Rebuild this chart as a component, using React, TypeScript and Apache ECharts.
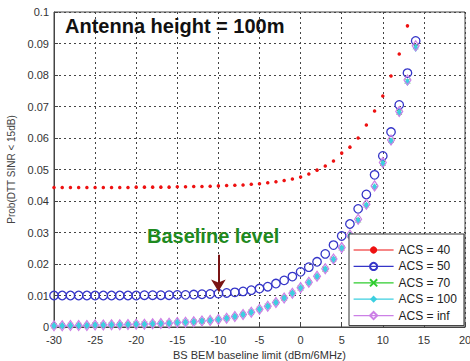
import React, { useEffect, useRef } from "react";
import * as echarts from "echarts";

const xValues: number[] = [
  -30, -29, -28, -27, -26, -25, -24, -23, -22, -21, -20, -19, -18, -17, -16,
  -15, -14, -13, -12, -11, -10, -9, -8, -7, -6, -5, -4, -3, -2, -1, 0, 1, 2,
  3, 4, 5, 6, 7, 8, 9, 10, 11, 12, 13, 14,
];

const acs40: number[] = [
  0.0443, 0.0443, 0.0443, 0.0443, 0.0443, 0.0443, 0.0443, 0.0443, 0.0443, 0.0443,
  0.0444, 0.0444, 0.0444, 0.0444, 0.0444, 0.0445, 0.0445, 0.0446, 0.0446, 0.0447,
  0.0448, 0.0449, 0.045, 0.0451, 0.0453, 0.0455, 0.0458, 0.0461, 0.0465, 0.047,
  0.0476, 0.0486, 0.0498, 0.0511, 0.0527, 0.0552, 0.0571, 0.06, 0.0641, 0.0686,
  0.0733, 0.0797, 0.0867, 0.0956,
];

const acs50: number[] = [
  0.01, 0.01, 0.01, 0.01, 0.01, 0.01, 0.01, 0.01, 0.01, 0.01,
  0.01, 0.0101, 0.0101, 0.0101, 0.0101, 0.0102, 0.0102, 0.0103, 0.0104, 0.0105,
  0.0106, 0.0108, 0.011, 0.0113, 0.0117, 0.0122, 0.0128, 0.0138, 0.0148, 0.016,
  0.0175, 0.019, 0.0207, 0.0232, 0.026, 0.0289, 0.0327, 0.0375, 0.0421, 0.0483,
  0.0543, 0.0619, 0.0705, 0.0806, 0.0908,
];

const acs70: number[] = [
  0.0004, 0.0004, 0.0005, 0.0005, 0.0005, 0.0006, 0.0006, 0.0007, 0.0007, 0.0008,
  0.0009, 0.0009, 0.001, 0.0011, 0.0012, 0.0014, 0.0015, 0.0017, 0.0019, 0.0021,
  0.0024, 0.0028, 0.0033, 0.004, 0.0047, 0.0056, 0.0066, 0.0078, 0.0092, 0.0107,
  0.0124, 0.0141, 0.016, 0.0184, 0.0215, 0.0251, 0.029, 0.034, 0.0388, 0.0446,
  0.052, 0.0592, 0.0682, 0.0781, 0.089,
];

const acs100: number[] = [
  0.0004, 0.0004, 0.0005, 0.0005, 0.0005, 0.0006, 0.0006, 0.0007, 0.0007, 0.0008,
  0.0009, 0.0009, 0.001, 0.0011, 0.0012, 0.0014, 0.0015, 0.0017, 0.0019, 0.0021,
  0.0024, 0.0028, 0.0033, 0.004, 0.0047, 0.0056, 0.0066, 0.0078, 0.0092, 0.0107,
  0.0124, 0.0141, 0.016, 0.0183, 0.0214, 0.025, 0.0289, 0.0338, 0.0386, 0.0444,
  0.0518, 0.059, 0.068, 0.0778, 0.0886,
];

const acsInf: number[] = [
  0.0004, 0.0004, 0.0005, 0.0005, 0.0005, 0.0006, 0.0006, 0.0007, 0.0007, 0.0008,
  0.0009, 0.0009, 0.001, 0.0011, 0.0012, 0.0014, 0.0015, 0.0017, 0.0019, 0.0021,
  0.0024, 0.0028, 0.0033, 0.004, 0.0047, 0.0056, 0.0066, 0.0078, 0.0092, 0.0107,
  0.0125, 0.0142, 0.0161, 0.0185, 0.0216, 0.0252, 0.0292, 0.0342, 0.039, 0.0448,
  0.0522, 0.0594, 0.0684, 0.0784, 0.0893,
];

const seriesNames: string[] = ["ACS = 40", "ACS = 50", "ACS = 70", "ACS = 100", "ACS = inf"];

const arrowX = -10;
const arrowTop = 0.0229;
const arrowTip = 0.0113;

const titleText = "Antenna height = 100m";
const baselineText = "Baseline level";
const xAxisName = "BS BEM baseline limit (dBm/6MHz)";
const yAxisName = "Prob(DTT SINR < 15dB)";

const FONT = "Arial, 'Liberation Sans', sans-serif";

function pairs(ys: number[]): [number, number][] {
  return ys.map((y, i) => [xValues[i], y]);
}

export default function App() {
  const ref = useRef<HTMLDivElement>(null);

  useEffect(() => {
    if (!ref.current) return;
    const chart = echarts.init(ref.current, undefined, { renderer: "svg" });

    const base = {
      type: "line" as const,
      showSymbol: true,
      z: 3,
    };

    chart.setOption({
      animation: false,
      backgroundColor: "#ffffff",
      grid: {
        left: 54,
        right: 5,
        top: 12,
        bottom: 34,
        containLabel: false,
        outerBoundsMode: "none",
        show: true,
        borderColor: "#444",
        borderWidth: 1,
        backgroundColor: "#fff",
      },
      xAxis: {
        type: "value",
        min: -30,
        max: 20,
        interval: 5,
        name: xAxisName,
        nameLocation: "middle",
        nameGap: 21,
        nameTextStyle: { fontFamily: FONT, fontSize: 11, color: "#333" },
        axisLine: { show: true, onZero: false, lineStyle: { color: "#444" } },
        axisTick: { show: true, inside: true, length: 4, lineStyle: { color: "#444" } },
        axisLabel: { fontFamily: FONT, fontSize: 11, color: "#333", margin: 7 },
        splitLine: { show: true, lineStyle: { color: "#444", type: [2, 3], width: 1 } },
      },
      yAxis: {
        type: "value",
        min: 0,
        max: 0.1,
        interval: 0.01,
        name: yAxisName,
        nameLocation: "middle",
        nameGap: 35,
        nameTextStyle: { fontFamily: FONT, fontSize: 10, color: "#444" },
        axisLine: { show: true, onZero: false, lineStyle: { color: "#444" } },
        axisTick: { show: true, inside: true, length: 4, lineStyle: { color: "#444" } },
        axisLabel: {
          fontFamily: FONT,
          fontSize: 11,
          color: "#333",
          margin: 5,
          formatter: (v: number) => String(parseFloat(v.toFixed(3))),
        },
        splitLine: { show: true, lineStyle: { color: "#444", type: [2, 3], width: 1 } },
      },
      legend: {
        orient: "vertical",
        left: 349,
        top: 234,
        backgroundColor: "#fff",
        borderColor: "#333",
        borderWidth: 1,
        borderRadius: 0,
        padding: [10, 7, 4, 4],
        itemWidth: 40,
        itemHeight: 9,
        itemGap: 4.4,
        textStyle: { fontFamily: FONT, fontSize: 12, color: "#222" },
        lineStyle: { width: 1.2 },
        data: seriesNames,
      },
      graphic: [
        {
          type: "text",
          left: 65,
          top: 16,
          style: {
            text: titleText,
            fontFamily: FONT,
            fontSize: 20,
            fontWeight: "bold",
            fill: "#111",
          },
          z: 10,
        },
        {
          type: "text",
          left: 147,
          top: 226,
          style: {
            text: baselineText,
            fontFamily: FONT,
            fontSize: 20,
            fontWeight: "bold",
            fill: "#1f8a1f",
          },
          z: 10,
        },
      ],
      series: [
        {
          ...base,
          name: seriesNames[0],
          data: pairs(acs40),
          symbol: "circle",
          symbolSize: 3.5,
          itemStyle: { color: "#ee1111" },
          lineStyle: { width: 0, color: "#ee1111" },
        },
        {
          ...base,
          name: seriesNames[1],
          data: pairs(acs50),
          symbol: "circle",
          symbolSize: 8.5,
          itemStyle: { color: "transparent", borderColor: "#3535c8", borderWidth: 1.3 },
          lineStyle: { width: 0, color: "#3535c8" },
          markLine: {
            silent: true,
            symbol: ["none", "arrow"],
            symbolSize: [11, 12],
            label: { show: false },
            lineStyle: { color: "#7a1414", width: 2, type: "solid" },
            data: [[{ coord: [arrowX, arrowTop] }, { coord: [arrowX, arrowTip] }]],
          },
        },
        {
          ...base,
          name: seriesNames[2],
          data: pairs(acs70),
          symbol: "path://M0,0L10,10M10,0L0,10",
          symbolSize: 5,
          itemStyle: { color: "transparent", borderColor: "#2ecc2e", borderWidth: 1 },
          lineStyle: { width: 0, color: "#2ecc2e" },
        },
        {
          ...base,
          name: seriesNames[3],
          data: pairs(acs100),
          symbol: "diamond",
          symbolSize: [6, 8],
          itemStyle: { color: "#3ccfe0" },
          lineStyle: { width: 0, color: "#3ccfe0" },
        },
        {
          ...base,
          name: seriesNames[4],
          data: pairs(acsInf),
          symbol: "diamond",
          symbolSize: [7, 10],
          itemStyle: { color: "transparent", borderColor: "#cc80e6", borderWidth: 1.2 },
          lineStyle: { width: 0, color: "#cc80e6" },
        },
      ],
    });

    return () => chart.dispose();
  }, []);

  return (
    <div
      ref={ref}
      style={{ position: "fixed", left: 0, top: 0, width: 470, height: 361 }}
    />
  );
}
